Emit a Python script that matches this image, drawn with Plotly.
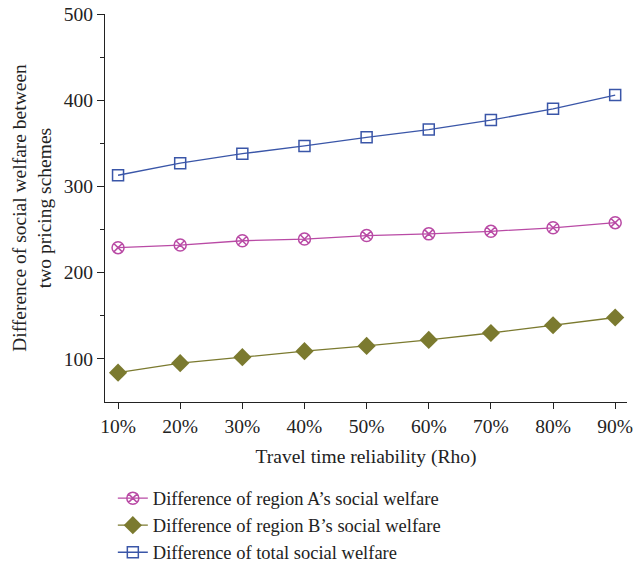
import plotly.graph_objects as go

rho = [10, 20, 30, 40, 50, 60, 70, 80, 90]
rho_labels = ["10%", "20%", "30%", "40%", "50%", "60%", "70%", "80%", "90%"]
region_a = [229, 232, 237, 239, 243, 245, 248, 252, 258]
region_b = [84, 95, 102, 109, 115, 122, 130, 139, 148]
total = [313, 327, 338, 347, 357, 366, 377, 390, 406]

names = ["Difference of region A\u2019s social welfare",
         "Difference of region B\u2019s social welfare",
         "Difference of total social welfare"]

FONT = "Liberation Serif, Times New Roman, serif"

fig = go.Figure()
fig.add_trace(go.Scatter(x=rho, y=region_a, name=names[0], mode="lines+markers",
                         line=dict(color="#b94aa5", width=1.3),
                         marker=dict(symbol="circle-x-open", size=12, color="#b94aa5",
                                     line=dict(width=1.5))))
fig.add_trace(go.Scatter(x=rho, y=region_b, name=names[1], mode="lines+markers",
                         line=dict(color="#7b7a2f", width=1.3),
                         marker=dict(symbol="diamond", size=14, color="#7b7a2f")))
fig.add_trace(go.Scatter(x=rho, y=total, name=names[2], mode="lines+markers",
                         line=dict(color="#3a56a8", width=1.3),
                         marker=dict(symbol="square-open", size=11, color="#3a56a8",
                                     line=dict(width=1.5))))

fig.update_layout(
    width=635, height=562,
    margin=dict(l=105, r=8, t=14, b=160, autoexpand=False),
    paper_bgcolor="white", plot_bgcolor="white",
    font=dict(family=FONT, size=19.5, color="#222222"),
    showlegend=True,
    legend=dict(x=0.015, y=-0.2, xanchor="left", yanchor="top",
                font=dict(family=FONT, size=18.5, color="#222222"),
                bgcolor="rgba(0,0,0,0)", itemwidth=30, tracegroupgap=0),
    xaxis=dict(range=[7.9, 91.9], tickvals=rho, ticktext=rho_labels,
               showgrid=False, zeroline=False, showline=True, linecolor="#222222",
               linewidth=1.2, ticks="outside", ticklen=6, tickcolor="#222222",
               tickfont=dict(family=FONT, size=19.5), ticklabeloverflow="allow",
               title=dict(text="Travel time reliability (Rho)", standoff=13,
                          font=dict(family=FONT, size=19.5))),
    yaxis=dict(range=[50, 500], tickvals=[100, 200, 300, 400, 500],
               showgrid=False, zeroline=False, showline=True, linecolor="#222222",
               linewidth=1.2, ticks="outside", ticklen=7, tickcolor="#222222",
               tickfont=dict(family=FONT, size=19.5), ticklabeloverflow="allow",
               minor=dict(tickvals=[150, 250, 350, 450], ticks="outside", ticklen=4,
                          tickcolor="#222222", showgrid=False),
               title=dict(text="Difference of social welfare between<br>two pricing schemes",
                          standoff=6, font=dict(family=FONT, size=19.5))),
)

fig.write_html(
    "out.html",
    config={"displayModeBar": False},
    post_script="document.body.style.margin='0';document.body.style.overflow='hidden';",
)
